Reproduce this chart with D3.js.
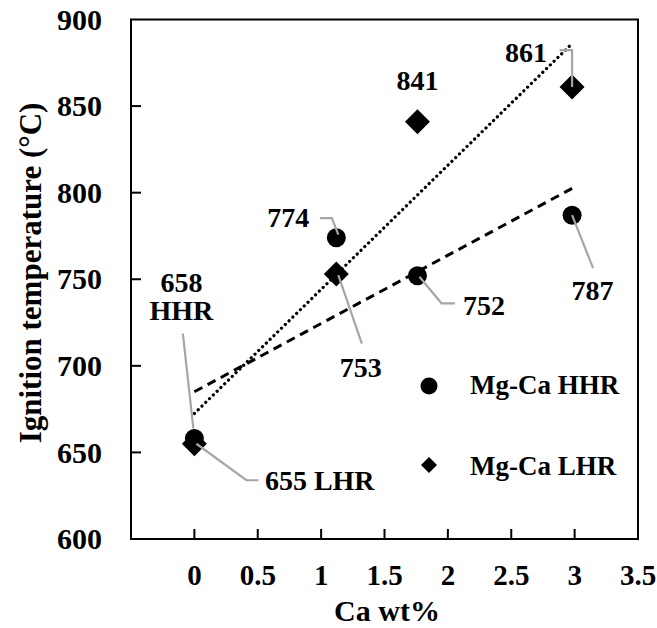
<!DOCTYPE html>
<head>
<meta charset="utf-8">
<title>Ignition temperature vs Ca wt%</title>
<script src="https://d3js.org/d3.v7.min.js"></script>
<style>
  body { margin: 0; background: #fff; }
  svg {
    font-family: "Liberation Serif", "Times New Roman", serif;
    font-weight: bold;
    fill: #000;
  }
  .frame { fill: none; stroke: #000; stroke-width: 2; }
  .tick-line { stroke: #000; stroke-width: 2; }
  .tick-label { font-size: 30px; }
  .x-tick-label { font-size: 29px; }
  .axis-title { font-size: 30px; }
  .y-title { font-size: 31px; }
  .data-label { font-size: 28px; }
  .legend-text { font-size: 27px; }
  .leader { fill: none; stroke: #a6a6a6; stroke-width: 2.2; }
  .trend-hhr { fill: none; stroke: #000; stroke-width: 3; stroke-dasharray: 9 6; }
  .trend-lhr { fill: none; stroke: #000; stroke-width: 3.2; stroke-dasharray: 0.1 5.2; stroke-linecap: round; }
</style>
</head>
<body>
<script>
// data
var caWt    = [0, 1.12, 1.76, 2.98];
var hhrTemp = [658, 774, 752, 787];
var lhrTemp = [655, 753, 841, 861];
var xTicks  = [0, 0.5, 1, 1.5, 2, 2.5, 3, 3.5];
var yTicks  = [600, 650, 700, 750, 800, 850, 900];
var seriesNames = ["Mg-Ca HHR", "Mg-Ca LHR"];

var width = 657, height = 628;

var svg = d3.select("body").append("svg")
    .attr("width", width)
    .attr("height", height);

var x = d3.scaleLinear().domain([-0.5, 3.5]).range([131, 638]);
var y = d3.scaleLinear().domain([600, 900]).range([539, 19.5]);

// linear least squares, like the spreadsheet trendline
function fit(xs, ys) {
  var mx = d3.mean(xs), my = d3.mean(ys);
  var sxy = d3.sum(xs, function(v, i) { return (v - mx) * (ys[i] - my); });
  var sxx = d3.sum(xs, function(v) { return (v - mx) * (v - mx); });
  var b = sxy / sxx, a = my - b * mx;
  var x0 = d3.min(xs), x1 = d3.max(xs);
  return [[x0, a + b * x0], [x1, a + b * x1]];
}

var line = d3.line()
    .x(function(d) { return x(d[0]); })
    .y(function(d) { return y(d[1]); });

// ticks (inside)
svg.append("g").selectAll("line")
  .data(yTicks.slice(1, -1))
  .enter().append("line")
    .attr("class", "tick-line")
    .attr("x1", x.range()[0]).attr("x2", x.range()[0] + 10)
    .attr("y1", function(d) { return y(d); })
    .attr("y2", function(d) { return y(d); });

svg.append("g").selectAll("line")
  .data(xTicks.slice(0, -1))
  .enter().append("line")
    .attr("class", "tick-line")
    .attr("x1", function(d) { return x(d); })
    .attr("x2", function(d) { return x(d); })
    .attr("y1", y.range()[0]).attr("y2", y.range()[0] - 10);

svg.append("rect")
    .attr("class", "frame")
    .attr("x", x.range()[0])
    .attr("y", y.range()[1])
    .attr("width", x.range()[1] - x.range()[0])
    .attr("height", y.range()[0] - y.range()[1]);

// tick labels
svg.append("g").selectAll("text")
  .data(yTicks)
  .enter().append("text")
    .attr("class", "tick-label")
    .attr("text-anchor", "end")
    .attr("x", 102)
    .attr("y", function(d) { return y(d); })
    .attr("dy", "0.34em")
    .text(function(d) { return d; });

svg.append("g").selectAll("text")
  .data(xTicks)
  .enter().append("text")
    .attr("class", "x-tick-label")
    .attr("text-anchor", "middle")
    .attr("x", function(d) { return x(d); })
    .attr("y", 585)
    .text(function(d) { return d; });

// axis titles
svg.append("text")
    .attr("class", "axis-title")
    .attr("text-anchor", "middle")
    .attr("x", 387)
    .attr("y", 621)
    .text("Ca wt%");

svg.append("text")
    .attr("class", "y-title")
    .attr("text-anchor", "middle")
    .attr("transform", "translate(41,273) rotate(-90)")
    .text("Ignition temperature (°C)");

// trendlines
svg.append("path")
    .attr("class", "trend-hhr")
    .attr("d", line(fit(caWt, hhrTemp)));

svg.append("path")
    .attr("class", "trend-lhr")
    .attr("d", line(fit(caWt, lhrTemp)));

// markers
function diamond(h) {
  return "M0," + (-h) + "L" + h + ",0L0," + h + "L" + (-h) + ",0Z";
}

svg.append("g").selectAll("circle")
  .data(caWt)
  .enter().append("circle")
    .attr("cx", function(d) { return x(d); })
    .attr("cy", function(d, i) { return y(hhrTemp[i]); })
    .attr("r", 9.5)
    .attr("fill", "#000");

svg.append("g").selectAll("path")
  .data(caWt)
  .enter().append("path")
    .attr("d", diamond(12.5))
    .attr("transform", function(d, i) {
      return "translate(" + x(d) + "," + y(lhrTemp[i]) + ")";
    })
    .attr("fill", "#000");

// data labels with leader lines (offsets in px from the point)
var labels = [
  {s: "hhr", i: 0, lines: ["658", "HHR"], anchor: "middle", dx: -13, dy: [-147, -119],
   leader: [[-1, -10], [-11.5, -105]]},
  {s: "hhr", i: 1, lines: ["774"], anchor: "end", dx: -27, dy: [-11],
   leader: [[2, -3], [-4.5, -19.5], [-16.5, -19.5]]},
  {s: "hhr", i: 2, lines: ["752"], anchor: "start", dx: 45.5, dy: [39],
   leader: [[2, 1], [24, 27.5], [37.5, 27.5]]},
  {s: "hhr", i: 3, lines: ["787"], anchor: "middle", dx: 20.5, dy: [85],
   leader: [[0, 0], [21, 53]]},
  {s: "lhr", i: 0, lines: ["655 LHR"], anchor: "start", dx: 70.5, dy: [46],
   leader: [[2, 0], [52, 36.5], [64, 36.5]]},
  {s: "lhr", i: 1, lines: ["753"], anchor: "middle", dx: 24.5, dy: [103],
   leader: [[2, 1], [25.5, 69.5]]},
  {s: "lhr", i: 2, lines: ["841"], anchor: "middle", dx: 0, dy: [-32],
   leader: null},
  {s: "lhr", i: 3, lines: ["861"], anchor: "end", dx: -25, dy: [-25.5],
   leader: [[0, 0], [0, -37], [-12.5, -37]]}
];

function pointOf(d) {
  var v = d.s === "hhr" ? hhrTemp[d.i] : lhrTemp[d.i];
  return [x(caWt[d.i]), y(v)];
}

var labelG = svg.append("g").selectAll("g")
  .data(labels)
  .enter().append("g")
    .attr("transform", function(d) {
      var p = pointOf(d);
      return "translate(" + p[0] + "," + p[1] + ")";
    });

labelG.filter(function(d) { return d.leader; })
  .append("path")
    .attr("class", "leader")
    .attr("d", function(d) { return d3.line()(d.leader); });

labelG.each(function(d) {
  var g = d3.select(this);
  d.lines.forEach(function(t, k) {
    g.append("text")
      .attr("class", "data-label")
      .attr("text-anchor", d.anchor)
      .attr("x", d.dx)
      .attr("y", d.dy[k])
      .text(t);
  });
});

// legend
var legend = svg.append("g");
legend.append("circle")
    .attr("cx", 429).attr("cy", 386).attr("r", 8.5).attr("fill", "#000");
legend.append("text")
    .attr("class", "legend-text")
    .attr("x", 470).attr("y", 394)
    .text(seriesNames[0]);
legend.append("path")
    .attr("d", diamond(8))
    .attr("transform", "translate(429,465)")
    .attr("fill", "#000");
legend.append("text")
    .attr("class", "legend-text")
    .attr("x", 470).attr("y", 475)
    .text(seriesNames[1]);
</script>
</body>
